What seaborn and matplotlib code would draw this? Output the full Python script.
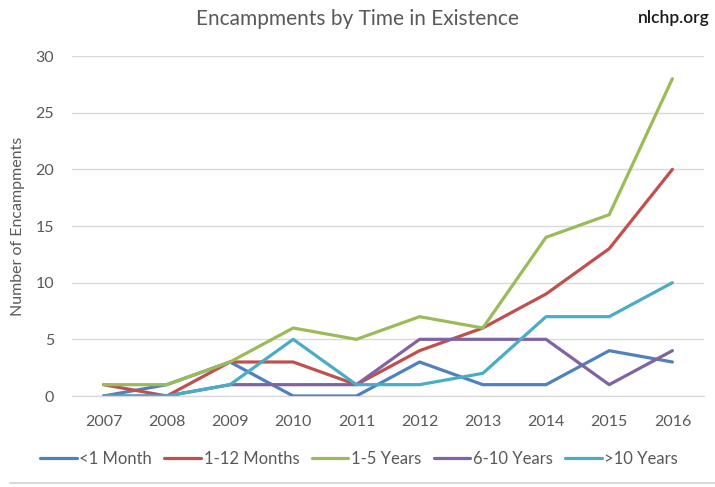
import numpy as np
import pandas as pd
import matplotlib
matplotlib.use("Agg")
import matplotlib.pyplot as plt
import seaborn as sns
from matplotlib.lines import Line2D

years = ["2007", "2008", "2009", "2010", "2011", "2012", "2013", "2014", "2015", "2016"]
lt_1_month = [0, 1, 3, 0, 0, 3, 1, 1, 4, 3]
m_1_12 = [1, 0, 3, 3, 1, 4, 6, 9, 13, 20]
y_1_5 = [1, 1, 3, 6, 5, 7, 6, 14, 16, 28]
y_6_10 = [0, 0, 1, 1, 1, 5, 5, 5, 1, 4]
gt_10 = [0, 0, 1, 5, 1, 1, 2, 7, 7, 10]
series_names = ["<1 Month", "1-12 Months", "1-5 Years", "6-10 Years", ">10 Years"]
series_vals = [lt_1_month, m_1_12, y_1_5, y_6_10, gt_10]
colors = ["#4F81BD", "#C0504D", "#9BBB59", "#8064A2", "#4BACC6"]
y_ticks = [0, 5, 10, 15, 20, 25, 30]

rows = []
for name, vals in zip(series_names, series_vals):
    for i, (yr, v) in enumerate(zip(years, vals)):
        rows.append({"idx": i, "Year": yr, "Series": name, "Value": v})
df = pd.DataFrame(rows)

sns.set_theme(style="white")
plt.rcParams["font.family"] = ["Lato", "DejaVu Sans"]
text_col = "#595959"

fig = plt.figure(figsize=(7.15, 4.87), dpi=100)
ax = fig.add_axes([72/715, 1-396/487, (704-72)/715, (396-56)/487])

sns.lineplot(data=df, x="idx", y="Value", hue="Series", hue_order=series_names,
             palette=colors, linewidth=2.3, ax=ax, legend=False, zorder=3)

ax.set_xlim(-0.5, 9.5)
ax.set_ylim(0, 30)
ax.set_xticks(range(len(years)))
ax.set_xticklabels(years)
ax.set_yticks(y_ticks)
ax.set_yticklabels([str(t) for t in y_ticks])
for s in ["top", "right", "left"]:
    ax.spines[s].set_visible(False)
ax.spines["bottom"].set_color("#D9D9D9")
ax.spines["bottom"].set_linewidth(1.0)
ax.grid(axis="y", color="#D9D9D9", linewidth=1.0, zorder=0)
ax.grid(axis="x", visible=False)
ax.tick_params(axis="both", length=0, labelsize=11.5, labelcolor=text_col)
ax.tick_params(axis="y", pad=13)
ax.tick_params(axis="x", pad=14)
ax.set_xlabel("")
ax.set_ylabel("Number of Encampments", fontsize=11.5, color=text_col, labelpad=7)

fig.text(357/715, 1-19/487, "Encampments by Time in Existence", ha="center", va="center",
         fontsize=15, color=text_col)
fig.text(710/715, 1-18/487, "nlchp.org", ha="right", va="center",
         fontsize=12.5, color="#1a1a1a", fontweight="semibold")

handles = [Line2D([0], [0], color=c, linewidth=2.3) for c in colors]
fig.legend(handles, series_names, loc="center", bbox_to_anchor=(359/715, 1-459/487),
           ncol=5, frameon=False, fontsize=12, handlelength=2.2, handletextpad=0.15,
           columnspacing=0.75, labelcolor=text_col)

fig.add_artist(Line2D([10/715, 1.0], [1-483/487, 1-483/487], color="#D9D9D9",
                      linewidth=1.5, transform=fig.transFigure))

fig.savefig("out.png", dpi=100, facecolor="white")
